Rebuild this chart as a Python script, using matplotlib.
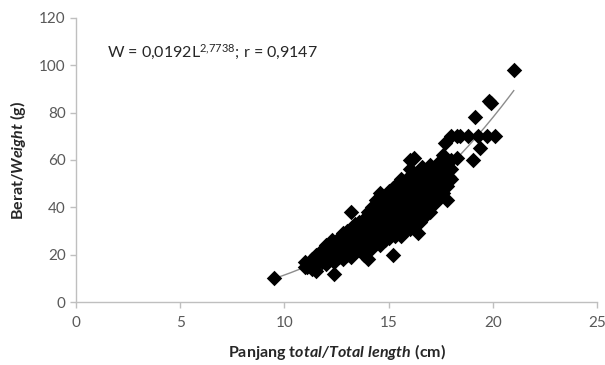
import numpy as np
import matplotlib
matplotlib.use('Agg')
import matplotlib.pyplot as plt

# Length (cm) and weight (g), grouped by length column
length = [9.5, 11.0, 11.0, 11.1, 11.3, 11.3, 11.5, 11.5, 11.5,
          11.8, 11.8, 11.8, 12.0, 12.0, 12.1, 12.0, 12.2, 12.3, 12.2,
          12.4, 12.4, 12.5, 12.4, 12.3, 12.6, 12.7, 12.6, 12.6,
          12.8, 12.9, 12.8, 12.7, 12.8, 13.0, 13.1, 13.0, 12.9, 13.0,
          13.2, 13.3, 13.2, 13.1, 13.2, 13.2, 13.4, 13.5, 13.4, 13.3, 13.4,
          13.6, 13.7, 13.6, 13.5, 13.6, 13.8, 13.9, 13.8, 13.7, 13.8, 13.8,
          14.0, 14.1, 14.0, 13.9, 14.0, 14.1, 14.0,
          14.2, 14.3, 14.2, 14.1, 14.2, 14.3, 14.2,
          14.4, 14.5, 14.4, 14.3, 14.4, 14.5, 14.4,
          14.6, 14.7, 14.6, 14.5, 14.6, 14.7, 14.6, 14.6,
          14.8, 14.9, 14.8, 14.7, 14.8, 14.9, 14.8,
          15.0, 15.1, 15.0, 14.9, 15.0, 15.1, 15.0, 15.0,
          15.2, 15.3, 15.2, 15.1, 15.2, 15.3, 15.2, 15.1, 15.2,
          15.4, 15.5, 15.4, 15.3, 15.4, 15.5, 15.4, 15.4,
          15.6, 15.7, 15.6, 15.5, 15.6, 15.7, 15.6, 15.5, 15.6,
          15.8, 15.9, 15.8, 15.7, 15.8, 15.9, 15.8, 15.8,
          16.0, 16.1, 16.0, 15.9, 16.0, 16.1, 16.0, 15.9, 16.0, 16.0,
          16.2, 16.3, 16.2, 16.1, 16.2, 16.3, 16.2, 16.1, 16.2,
          16.4, 16.5, 16.4, 16.3, 16.4, 16.5, 16.4, 16.3, 16.4,
          16.6, 16.7, 16.6, 16.5, 16.6, 16.7, 16.6, 16.6,
          16.8, 16.9, 16.8, 16.7, 16.8, 16.9, 16.8,
          17.0, 17.1, 17.0, 16.9, 17.0, 17.1, 17.0, 17.0,
          17.2, 17.3, 17.2, 17.1, 17.2, 17.2,
          17.4, 17.5, 17.4, 17.3, 17.4, 17.4,
          17.6, 17.6, 17.5, 17.6, 17.6, 17.7,
          17.8, 17.8, 17.9, 17.8, 18.0, 18.0, 18.0, 18.0,
          18.3, 18.3, 18.4, 18.8, 19.05, 19.15, 19.3, 19.4, 19.7,
          19.8, 19.9, 20.1, 21.0]
weight = [10, 15, 17, 15, 14, 18, 13, 16, 20,
          17, 19, 22, 16, 19, 21, 24, 18, 21, 23,
          12, 17, 20, 23, 26, 19, 22, 25, 27,
          18, 21, 24, 27, 29, 20, 23, 25, 28, 30,
          19, 22, 25, 28, 31, 38, 21, 24, 27, 30, 33,
          22, 25, 28, 31, 34, 20, 23, 26, 29, 32, 35,
          18, 24, 27, 30, 33, 36, 38,
          23, 26, 29, 32, 35, 38, 40,
          25, 28, 31, 34, 37, 40, 43,
          24, 27, 30, 33, 36, 39, 42, 46,
          26, 29, 32, 35, 38, 41, 44,
          27, 30, 33, 36, 39, 42, 45, 47,
          20, 28, 31, 34, 37, 40, 43, 46, 48,
          29, 32, 35, 38, 41, 44, 47, 50,
          28, 31, 34, 37, 40, 43, 46, 49, 52,
          30, 33, 36, 39, 42, 45, 48, 51,
          31, 34, 37, 40, 43, 46, 49, 52, 56, 60,
          33, 36, 39, 42, 45, 48, 51, 54, 61,
          29, 34, 37, 40, 43, 46, 49, 52, 55,
          35, 38, 41, 44, 47, 50, 53, 57,
          37, 40, 43, 46, 49, 52, 55,
          38, 41, 44, 47, 50, 53, 56, 58,
          42, 45, 48, 51, 54, 57,
          44, 47, 50, 53, 56, 59,
          46, 50, 54, 58, 62, 67,
          43, 49, 53, 57, 52, 56, 60, 70,
          61, 70, 70, 70, 60, 78, 70, 65, 70,
          85, 84, 70, 98]

# fitted power curve W = a * L^b
a_coef = 0.0192
b_coef = 2.7738
fit_range = (9.5, 21.0)

x_ticks = [0, 5, 10, 15, 20, 25]
y_ticks = [0, 20, 40, 60, 80, 100, 120]

plt.rcParams['font.family'] = ['Lato', 'DejaVu Sans']
plt.rcParams['mathtext.fontset'] = 'custom'
plt.rcParams['mathtext.rm'] = 'Lato'
plt.rcParams['mathtext.it'] = 'Lato:italic'
plt.rcParams['mathtext.bf'] = 'Lato:bold'
plt.rcParams['mathtext.bfit'] = 'Lato:italic:bold'

fig = plt.figure(figsize=(6.05, 3.65), dpi=100)
ax = fig.add_axes([0.1256, 0.1726, 0.8614, 0.7781])

lx = np.linspace(fit_range[0], fit_range[1], 200)
ax.plot(lx, a_coef * lx ** b_coef, color='#8c8c8c', linewidth=1.0, zorder=1)
ax.scatter(length, weight, marker='D', s=62, color='black', linewidths=0, zorder=2)

ax.set_xlim(0, 25)
ax.set_ylim(0, 120)
ax.set_xticks(x_ticks)
ax.set_yticks(y_ticks)

grey = '#bfbfbf'
for side in ['top', 'right']:
    ax.spines[side].set_visible(False)
for side in ['left', 'bottom']:
    ax.spines[side].set_color(grey)
    ax.spines[side].set_linewidth(1.0)
ax.tick_params(direction='out', length=4, width=1.0, color=grey,
               labelcolor='#595959', labelsize=11)
ax.tick_params(axis='x', pad=6)

ax.set_xlabel(r'$\mathbf{Panjang\ t}\mathbfit{otal/Total\ length}\mathbf{\ (cm)}$',
              fontsize=11.5, color='#262626', labelpad=9)
ax.set_ylabel(r'$\mathbf{Berat/}\mathbfit{Weight}\mathbf{\ (g)}$',
              fontsize=11.5, color='#262626', labelpad=8)

ax.text(1.5, 105.5, r'W = 0,0192L$^{2{,}7738}$; r = 0,9147', fontsize=11.5,
        color='#262626', va='center', ha='left')

plt.savefig('out.png', dpi=100)
